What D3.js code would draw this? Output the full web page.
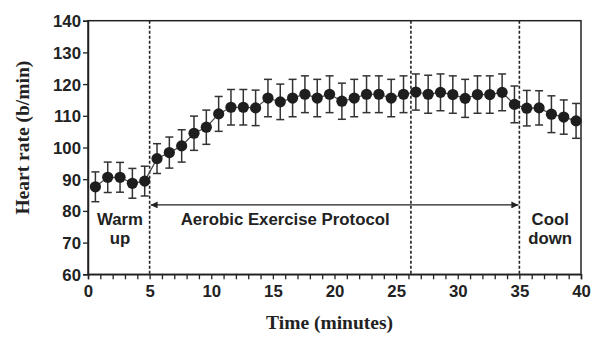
<!DOCTYPE html>
<html lang="en">
<head>
<meta charset="UTF-8">
<title>Heart rate over time</title>
<script src="https://d3js.org/d3.v7.min.js"></script>
<style>
  body { margin: 0; background: #fff; }
  svg text { fill: #222; }
  .tick text { font-family: "Liberation Sans", Arial, sans-serif; font-weight: bold; font-size: 16.8px; }
  .axis-title { font-family: "Liberation Serif", "Times New Roman", serif; font-weight: bold; font-size: 19.5px; }
  .note { font-family: "Liberation Sans", Arial, sans-serif; font-weight: bold; font-size: 16.8px; }
</style>
</head>
<body>
<div id="chart"></div>
<script>
// minutes of each sample
const times = [0.6, 1.6, 2.6, 3.6, 4.6, 5.6, 6.6, 7.6, 8.6, 9.6,
               10.6, 11.6, 12.6, 13.6, 14.6, 15.6, 16.6, 17.6, 18.6, 19.6,
               20.6, 21.6, 22.6, 23.6, 24.6, 25.6, 26.6, 27.6, 28.6, 29.6,
               30.6, 31.6, 32.6, 33.6, 34.6, 35.6, 36.6, 37.6, 38.6, 39.6];
// mean heart rate (b/min)
const heartRate = [87.6, 90.6, 90.6, 88.7, 89.4, 96.5, 98.4, 100.5, 104.5, 106.4,
                   110.6, 112.7, 112.7, 112.5, 115.6, 114.4, 115.6, 116.8, 115.6, 116.8,
                   114.6, 115.6, 116.8, 116.8, 115.6, 116.8, 117.5, 116.8, 117.4, 116.7,
                   115.5, 116.7, 116.7, 117.4, 113.6, 112.4, 112.5, 110.5, 109.6, 108.4];
// error bar half-widths
const errors = [4.7, 4.8, 4.7, 4.7, 4.7, 4.7, 4.9, 5.1, 5.4, 5.4,
                5.5, 5.6, 5.6, 5.6, 5.9, 5.6, 5.9, 5.8, 5.9, 5.8,
                5.7, 5.9, 5.8, 5.8, 5.9, 5.8, 5.7, 6.0, 5.8, 5.9,
                6.0, 5.9, 5.9, 5.8, 5.8, 5.6, 5.4, 5.8, 5.4, 5.5];
const xTicks = [0, 5, 10, 15, 20, 25, 30, 35, 40];
const yTicks = [60, 70, 80, 90, 100, 110, 120, 130, 140];
const phaseLines = [5, 26.2, 35];

const W = 596, H = 340;
const margin = { top: 20.7, right: 15, bottom: 65.7, left: 88 };
const width = W - margin.left - margin.right;
const height = H - margin.top - margin.bottom;
const ink = "#222";

const svg = d3.select("#chart").append("svg")
    .attr("width", W).attr("height", H);

const defs = svg.append("defs");
defs.append("marker")
    .attr("id", "arrow")
    .attr("viewBox", "0 0 10 10")
    .attr("refX", 10).attr("refY", 5)
    .attr("markerWidth", 9).attr("markerHeight", 7)
    .attr("markerUnits", "userSpaceOnUse")
    .attr("orient", "auto-start-reverse")
    .append("path").attr("d", "M0,0 L10,5 L0,10 Z").attr("fill", ink);

const g = svg.append("g")
    .attr("transform", `translate(${margin.left},${margin.top})`);

const x = d3.scaleLinear().domain([0, 40]).range([0, width]);
const y = d3.scaleLinear().domain([60, 140]).range([height, 0]);

// frame
g.append("rect")
    .attr("x", 0).attr("y", 0)
    .attr("width", width).attr("height", height)
    .attr("fill", "none").attr("stroke", ink).attr("stroke-width", 1.5);

// axes
const xAxis = g.append("g")
    .attr("transform", `translate(0,${height})`)
    .call(d3.axisBottom(x).ticks(40).tickSize(5).tickPadding(6)
        .tickFormat(d => xTicks.includes(d) ? d : ""));
const yAxis = g.append("g")
    .call(d3.axisLeft(y).tickValues(yTicks).tickSize(5).tickPadding(2));
[xAxis, yAxis].forEach(a => {
  a.select(".domain").attr("stroke", ink).attr("stroke-width", 1.5);
  a.selectAll(".tick line").attr("stroke", ink).attr("stroke-width", 1.3);
  a.selectAll(".tick text").attr("fill", "#222");
});
yAxis.selectAll(".tick text").attr("dy", "0.36em");

// phase separators
g.selectAll(".phase").data(phaseLines).enter().append("line")
    .attr("x1", d => x(d)).attr("x2", d => x(d))
    .attr("y1", 0).attr("y2", height)
    .attr("stroke", ink).attr("stroke-width", 1.6)
    .attr("stroke-dasharray", "3,2");

// arrow over the aerobic phase
g.append("line")
    .attr("x1", x(5) + 1).attr("x2", x(35) - 1)
    .attr("y1", y(81.9)).attr("y2", y(81.9))
    .attr("stroke", ink).attr("stroke-width", 1.3)
    .attr("marker-start", "url(#arrow)")
    .attr("marker-end", "url(#arrow)");

// phase labels
const notes = [
  { t: "Warm", x: 2.6, v: 75.6 }, { t: "up", x: 2.6, v: 69.4 },
  { t: "Aerobic Exercise Protocol", x: 16.0, v: 75.6 },
  { t: "Cool", x: 37.5, v: 75.6 }, { t: "down", x: 37.5, v: 69.4 }
];
g.selectAll(".note").data(notes).enter().append("text")
    .attr("class", "note")
    .attr("text-anchor", "middle")
    .attr("x", d => x(d.x)).attr("y", d => y(d.v))
    .text(d => d.t);

const pts = times.map((t, i) => ({ t, v: heartRate[i], e: errors[i] }));

// connecting line
g.append("path").datum(pts)
    .attr("fill", "none").attr("stroke", "#444").attr("stroke-width", 1.2)
    .attr("d", d3.line().x(d => x(d.t)).y(d => y(d.v)));

// error bars
const eb = g.selectAll(".eb").data(pts).enter().append("g")
    .attr("stroke", "#333").attr("stroke-width", 1.5);
eb.append("line")
    .attr("x1", d => x(d.t)).attr("x2", d => x(d.t))
    .attr("y1", d => y(d.v + d.e)).attr("y2", d => y(d.v - d.e));
eb.append("line")
    .attr("x1", d => x(d.t) - 4).attr("x2", d => x(d.t) + 4)
    .attr("y1", d => y(d.v + d.e)).attr("y2", d => y(d.v + d.e));
eb.append("line")
    .attr("x1", d => x(d.t) - 4).attr("x2", d => x(d.t) + 4)
    .attr("y1", d => y(d.v - d.e)).attr("y2", d => y(d.v - d.e));

// markers
g.selectAll(".dot").data(pts).enter().append("circle")
    .attr("cx", d => x(d.t)).attr("cy", d => y(d.v))
    .attr("r", 5.6).attr("fill", "#1e1e1e");

// axis titles
svg.append("text").attr("class", "axis-title")
    .attr("text-anchor", "middle")
    .attr("x", margin.left + x(19.6)).attr("y", 329)
    .text("Time (minutes)");
svg.append("text").attr("class", "axis-title")
    .attr("text-anchor", "middle")
    .attr("transform", `translate(29,${margin.top + y(103.1)}) rotate(-90)`)
    .text("Heart rate (b/min)");
</script>
</body>
</html>
